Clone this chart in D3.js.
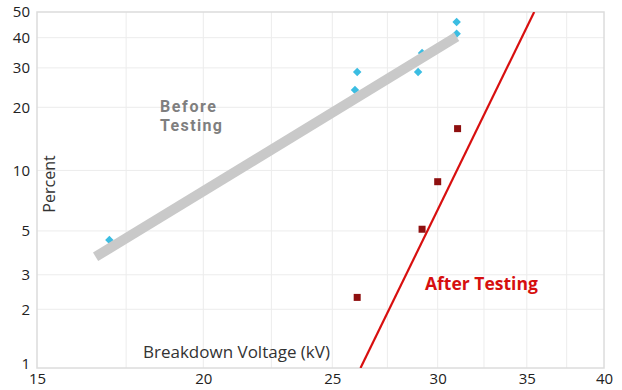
<!DOCTYPE html>
<html>
<head>
<meta charset="utf-8">
<script src="https://cdn.jsdelivr.net/npm/d3@7"></script>
<style>
  body { margin: 0; background: #fff; }
</style>
</head>
<body>
<div id="chart"></div>
<script>
// axis ticks
var xTicks = [15, 20, 25, 30, 35, 40];
var xGrid = [17.5, 20, 22.5, 25, 27.5, 30, 32.5, 35, 37.5];
var yTicks = [1, 2, 3, 5, 10, 20, 30, 40, 50];

// before testing: voltage (kV), percent
var beforeV = [17.0, 26.0, 26.1, 29.0, 29.2, 31.0, 31.0];
var beforeP = [4.5, 24.0, 28.8, 28.8, 34.7, 41.4, 46.0];
// fitted line for before testing (end points)
var beforeFitV = [16.6, 31.0];
var beforeFitP = [3.7, 40.3];

// after testing
var afterV = [26.1, 29.2, 30.0, 31.05];
var afterP = [2.3, 5.1, 8.8, 15.9];
var afterFitV = [26.25, 35.45];
var afterFitP = [1, 50];

var W = 622, H = 390;
var margin = { top: 12, right: 18, bottom: 22, left: 37 };
var FONT = "'Open Sans', 'Noto Sans', sans-serif";

var svg = d3.select("#chart").append("svg")
  .attr("width", W)
  .attr("height", H)
  .attr("font-family", FONT);

// weibull probability transform
function wb(p) {
  return Math.log(-Math.log(1 - p / 100));
}

var x = d3.scaleLog().domain([15, 40]).range([margin.left, W - margin.right]);
var yl = d3.scaleLinear().domain([wb(1), wb(50)]).range([H - margin.bottom, margin.top]);
function y(p) { return yl(wb(p)); }

var x0 = margin.left, x1 = W - margin.right, y0 = H - margin.bottom, y1 = margin.top;

svg.append("clipPath").attr("id", "plotclip")
  .append("rect")
  .attr("x", x0).attr("y", y1)
  .attr("width", x1 - x0).attr("height", y0 - y1);

// grid
svg.append("g").selectAll("line").data(xGrid).join("line")
  .attr("x1", d => x(d)).attr("x2", d => x(d))
  .attr("y1", y1).attr("y2", y0)
  .attr("stroke", "#ececec").attr("stroke-width", 1);

svg.append("g").selectAll("line").data(yTicks.slice(1, -1)).join("line")
  .attr("x1", x0).attr("x2", x1)
  .attr("y1", d => y(d)).attr("y2", d => y(d))
  .attr("stroke", "#ececec").attr("stroke-width", 1);

// frame
svg.append("rect")
  .attr("x", x0).attr("y", y1)
  .attr("width", x1 - x0).attr("height", y0 - y1)
  .attr("fill", "none").attr("stroke", "#dcdcdc").attr("stroke-width", 1.5);

// axes
var xAxis = svg.append("g")
  .attr("transform", "translate(0," + y0 + ")")
  .call(d3.axisBottom(x).tickValues(xTicks).tickFormat(d3.format("d")).tickSize(0).tickPadding(5));

var yAxis = svg.append("g")
  .attr("transform", "translate(" + x0 + ",0)")
  .call(d3.axisLeft(yl).tickValues(yTicks.map(wb)).tickFormat((d, i) => yTicks[i]).tickSize(0).tickPadding(7));

[xAxis, yAxis].forEach(function (a) {
  a.select(".domain").remove();
  a.attr("font-family", FONT).attr("font-size", 15);
  a.selectAll("text").attr("fill", "#222");
});
yAxis.selectAll(".tick").filter(d => d == wb(1)).select("text").attr("dy", "0.05em");

var plot = svg.append("g").attr("clip-path", "url(#plotclip)");

// before testing points (diamonds = rotated squares)
var before = beforeV.map((v, i) => ({ v: v, p: beforeP[i] }));
plot.append("g").selectAll("rect").data(before).join("rect")
  .attr("x", -3).attr("y", -3)
  .attr("width", 6).attr("height", 6)
  .attr("transform", d => "translate(" + x(d.v) + "," + y(d.p) + ") rotate(45)")
  .attr("fill", "#3bbde2");

// fitted lines
var line = d3.line().x(d => x(d.v)).y(d => y(d.p));
plot.append("path")
  .datum(beforeFitV.map((v, i) => ({ v: v, p: beforeFitP[i] })))
  .attr("d", line)
  .attr("fill", "none").attr("stroke", "#c9c9c9").attr("stroke-width", 10);

plot.append("path")
  .datum(afterFitV.map((v, i) => ({ v: v, p: afterFitP[i] })))
  .attr("d", line)
  .attr("fill", "none").attr("stroke", "#d80f0f").attr("stroke-width", 2.2);

// after testing points
var after = afterV.map((v, i) => ({ v: v, p: afterP[i] }));
plot.append("g").selectAll("rect").data(after).join("rect")
  .attr("x", d => x(d.v) - 3.5).attr("y", d => y(d.p) - 3.5)
  .attr("width", 7).attr("height", 7)
  .attr("fill", "#8e0f0f");

// labels
svg.append("text")
  .attr("x", 160).attr("y", 112)
  .attr("font-family", "Roboto, sans-serif")
  .attr("font-size", 16).attr("font-weight", "bold").attr("fill", "#7f7f7f")
  .attr("textLength", 56).attr("lengthAdjust", "spacing")
  .text("Before");
svg.append("text")
  .attr("x", 160).attr("y", 131)
  .attr("font-family", "Roboto, sans-serif")
  .attr("font-size", 16).attr("font-weight", "bold").attr("fill", "#7f7f7f")
  .attr("textLength", 62).attr("lengthAdjust", "spacing")
  .text("Testing");

svg.append("text")
  .attr("x", 425).attr("y", 290)
  .attr("font-size", 17.5).attr("font-weight", "bold").attr("fill", "#d60f0f")
  .text("After Testing");

svg.append("text")
  .attr("transform", "translate(55,184) rotate(-90)")
  .attr("text-anchor", "middle")
  .attr("font-size", 16).attr("fill", "#333")
  .text("Percent");

svg.append("text")
  .attr("x", 143).attr("y", 358)
  .attr("font-size", 17).attr("fill", "#333")
  .text("Breakdown Voltage (kV)");
</script>
</body>
</html>
